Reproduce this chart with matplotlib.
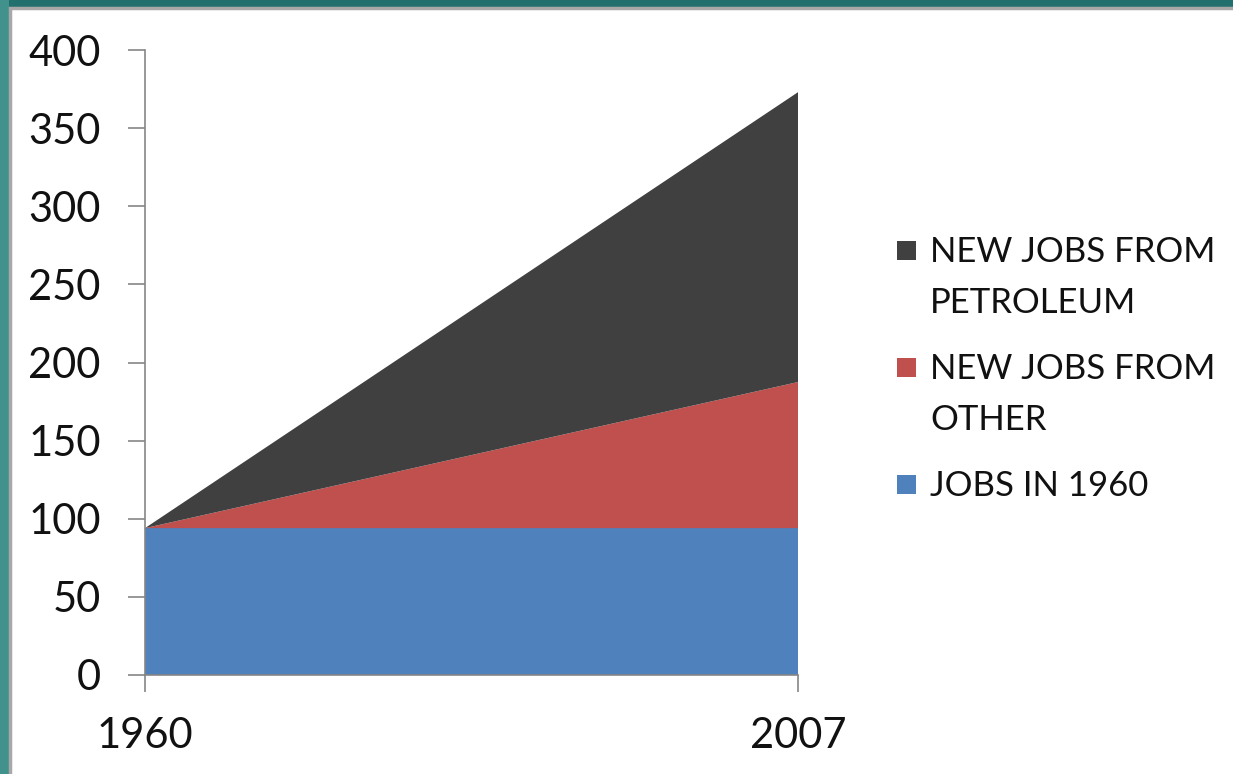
import matplotlib.pyplot as plt
from matplotlib.patches import Rectangle

years = ['1960', '2007']
jobs_1960 = [94, 94]
jobs_other = [0, 93.5]
jobs_petroleum = [0, 185.5]

labels = ['NEW JOBS FROM\nPETROLEUM', 'NEW JOBS FROM\nOTHER', 'JOBS IN 1960']
colors = ['#404040', '#c0504d', '#4f81bd']

plt.rcParams['font.family'] = ['Lato', 'DejaVu Sans']

W, H = 1233, 774
fig = plt.figure(figsize=(W / 100, H / 100), dpi=100, facecolor='#22706d')

# slide frame
fig.add_artist(Rectangle((0, 0), 9 / W, 1, transform=fig.transFigure,
                         facecolor='#41918c', edgecolor='none', zorder=0))
fig.add_artist(Rectangle((10 / W, -0.01), 1, (H - 8) / H + 0.01, transform=fig.transFigure,
                         facecolor='white', edgecolor='#a8a8a8', linewidth=2.5, zorder=0))

ax = fig.add_axes([145 / W, 99 / H, (798 - 145) / W, (675 - 50) / H])
ax.set_facecolor('none')
x = [0, 1]
ax.stackplot(x, jobs_1960, jobs_other, jobs_petroleum,
             colors=[colors[2], colors[1], colors[0]], linewidth=0)

ax.set_xlim(0, 1)
ax.set_ylim(0, 400)
ax.set_yticks(range(0, 401, 50))
ax.set_xticks(x)
ax.set_xticklabels(years)
for s in ['top', 'right']:
    ax.spines[s].set_visible(False)
for s in ['left', 'bottom']:
    ax.spines[s].set_color('#868686')
    ax.spines[s].set_linewidth(1.2)
ax.tick_params(axis='both', colors='#868686', labelcolor='#111111', labelsize=30,
               length=12, width=1.2, direction='out')
ax.tick_params(axis='y', pad=20)
ax.tick_params(axis='x', pad=18)

# legend drawn by hand so the swatch sits on the first line
legend_y = [251, 368, 485]
for lab, col, yy in zip(labels, colors, legend_y):
    fig.add_artist(Rectangle((897 / W, 1 - (yy + 9) / H), 19 / W, 19 / H,
                             transform=fig.transFigure, facecolor=col, edgecolor='none'))
    fig.text(930 / W, 1 - (yy - 15) / H, lab, fontsize=25, va='top', ha='left',
             linespacing=1.72, color='#111111')

fig.savefig('out.png', dpi=100, facecolor=fig.get_facecolor())
